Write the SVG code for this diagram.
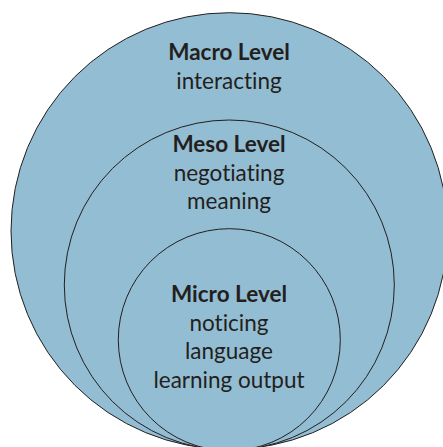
<svg xmlns="http://www.w3.org/2000/svg" width="443" height="447" viewBox="0 0 443 447">
<style>
.c{fill:#93bdd2;stroke:#231f20;stroke-width:1}
text{font-family:Lato,"Open Sans",sans-serif;font-size:22.5px;fill:#231f20;text-anchor:middle;font-variant-ligatures:none}
.b{font-weight:bold}
</style>
<rect width="443" height="447" fill="#ffffff"/>
<g id="macro">
<circle class="c" cx="229.3" cy="231" r="218.3"/>
<text x="229" y="60" class="b">Macro Level</text>
<text x="229" y="89">interacting</text>
</g>
<g id="meso">
<circle class="c" cx="229.3" cy="285" r="165"/>
<text x="229" y="151.7" class="b">Meso Level</text>
<text x="229" y="181">negotiating</text>
<text x="229" y="209">meaning</text>
</g>
<g id="micro">
<circle class="c" cx="229.3" cy="339.7" r="111"/>
<text x="229" y="301.7" class="b">Micro Level</text>
<text x="229" y="330.7">noticing</text>
<text x="229" y="359">language</text>
<text x="229" y="387.7">learning output</text>
</g>
<g id="connectors"></g>
</svg>
